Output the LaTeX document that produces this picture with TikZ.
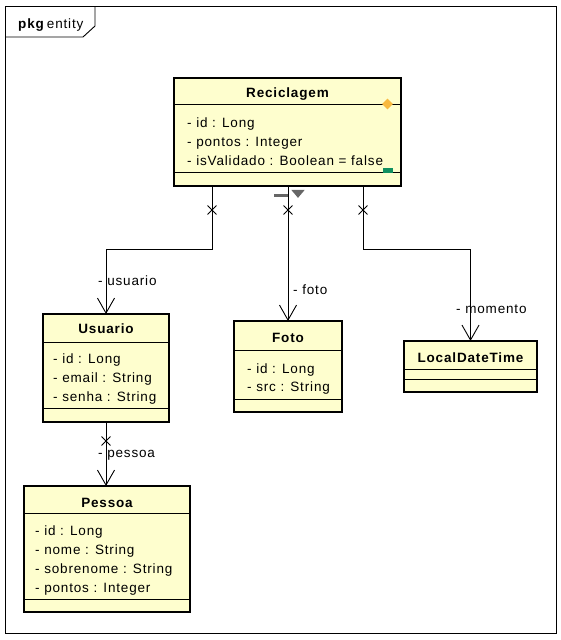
\documentclass[tikz,border=0pt]{standalone}
\usepackage{fontspec}
\setmainfont[LetterSpace=6.2]{Liberation Sans}
\usetikzlibrary{arrows.meta,shapes.misc,shapes.geometric}
\definecolor{clsfill}{HTML}{FEFECE}
\definecolor{markgrey}{HTML}{666666}
\definecolor{diaorange}{HTML}{F8B940}
\definecolor{opgreen}{HTML}{109060}
\tikzset{
  classbox/.style={draw=black, line width=2.6pt, fill=clsfill, anchor=north west, inner sep=0pt, outer sep=0pt},
  sepline/.style={line width=0.9pt},
  ctitle/.style={anchor=base, inner sep=0pt, font=\fontsize{13.5}{16}\selectfont\bfseries},
  attr/.style={anchor=base west, inner sep=0pt},
  assoc/.style={line width=0.9pt, -{Straight Barb[length=15pt,width=17pt,line width=0.9pt]}},
  xmark/.style={cross out, draw, line width=0.9pt, minimum size=8pt, inner sep=0pt},
  rolelabel/.style={anchor=base west, inner sep=0pt},
}
\begin{document}
\begin{tikzpicture}[x=1pt,y=-1pt,font=\fontsize{13.5}{16}\selectfont]
\useasboundingbox (0,0) rectangle (561,640);
% package frame
\draw[line width=0.9pt] (5,6) rectangle (556,633);
\draw[line width=0.9pt] (5,37) -- (83,37) -- (95,26) -- (95,6);
\node[anchor=base west, inner sep=0pt] (pkglabel) at (18,28) {\textbf{pkg}\,entity};

% Reciclagem
\node[classbox, minimum width=227pt, minimum height=108pt] (rec) at (174,78) {};
\draw[sepline] (174,104) -- (401,104);
\draw[sepline] (174,172) -- (401,172);
\node[ctitle] (rect) at (287.5,97) {Reciclagem};
\node[attr] (reca1) at (187,127) {- id : Long};
\node[attr] (reca2) at (187,146) {- pontos : Integer};
\node[attr] (reca3) at (187,165) {- isValidado : Boolean = false};
\node[diamond, fill=diaorange, minimum width=11pt, minimum height=11pt, inner sep=0pt] (recdia) at (387.5,104) {};
\node[fill=opgreen, minimum width=10pt, minimum height=4.5pt, inner sep=0pt] (recop) at (388,170.5) {};
\draw[markgrey, line width=3pt] (274,195) -- (289,195);
\node[isosceles triangle, isosceles triangle apex angle=80, shape border rotate=-90, fill=markgrey, minimum height=8pt, inner sep=0pt] (recnav) at (298,193) {};

% Usuario
\node[classbox, minimum width=126pt, minimum height=108pt] (usu) at (43,314) {};
\draw[sepline] (43,342) -- (169,342);
\draw[sepline] (43,408) -- (169,408);
\node[ctitle] (usut) at (106,333) {Usuario};
\node[attr] (usua1) at (53,363) {- id : Long};
\node[attr] (usua2) at (53,382) {- email : String};
\node[attr] (usua3) at (53,401) {- senha : String};

% Foto
\node[classbox, minimum width=108pt, minimum height=91pt] (foto) at (234,321) {};
\draw[sepline] (234,350) -- (342,350);
\draw[sepline] (234,399) -- (342,399);
\node[ctitle] (fotot) at (288,342) {Foto};
\node[attr] (fotoa1) at (247,373) {- id : Long};
\node[attr] (fotoa2) at (247,391) {- src : String};

% LocalDateTime
\node[classbox, minimum width=133pt, minimum height=51pt] (ldt) at (404,341) {};
\draw[sepline] (404,369) -- (537,369);
\draw[sepline] (404,379) -- (537,379);
\node[ctitle] (ldtt) at (470.5,362) {LocalDateTime};

% Pessoa
\node[classbox, minimum width=166pt, minimum height=126pt] (pes) at (24,486) {};
\draw[sepline] (24,513) -- (190,513);
\draw[sepline] (24,599) -- (190,599);
\node[ctitle] (pest) at (107,507) {Pessoa};
\node[attr] (pesa1) at (35,535) {- id : Long};
\node[attr] (pesa2) at (35,554) {- nome : String};
\node[attr] (pesa3) at (35,573) {- sobrenome : String};
\node[attr] (pesa4) at (35,592) {- pontos : Integer};

% connectors
\coordinate (bendu) at (212,249);
\coordinate (bendm) at (363,249);
\draw[assoc] (rec.south -| bendu) -- (bendu) -| (usu.north);
\draw[assoc] (foto.north |- rec.south) -- (foto.north);
\draw[assoc] (rec.south -| bendm) -- (bendm) -| (ldt.north);
\draw[assoc] (usu.south) -- (usu.south |- pes.north);

% navigability crosses
\node[xmark] (xu) at (212,210) {};
\node[xmark] (xf) at (288,210) {};
\node[xmark] (xm) at (363,210) {};
\node[xmark] (xp) at (106,441) {};

% role labels
\node[rolelabel] (lu) at (98,285) {- usuario};
\node[rolelabel] (lf) at (293,294) {- foto};
\node[rolelabel] (lm) at (456,313) {- momento};
\node[rolelabel] (lp) at (98,457) {- pessoa};
\end{tikzpicture}
\end{document}
